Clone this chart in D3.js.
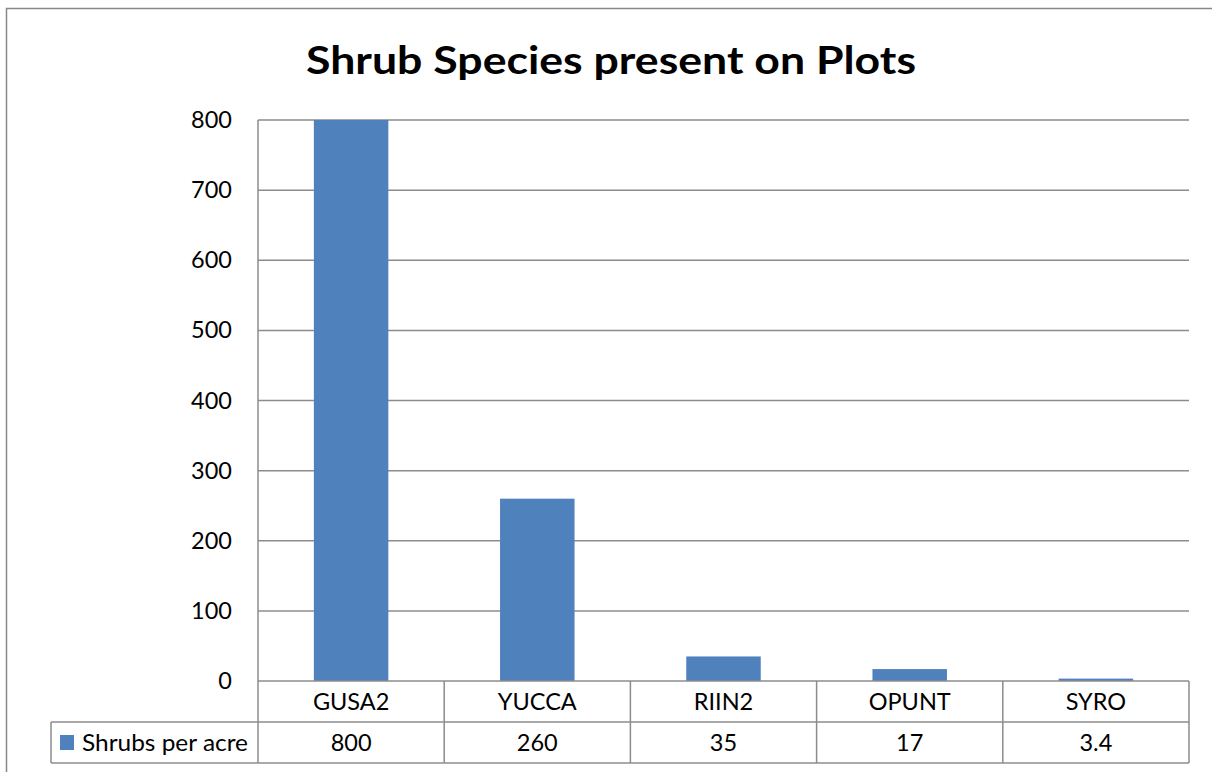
<!DOCTYPE html>
<html>
<head>
<meta charset="utf-8">
<script src="https://cdn.jsdelivr.net/npm/d3@7"></script>
<style>
  html, body { margin: 0; padding: 0; background: #fff; }
  svg { display: block; }
  text { font-family: Lato, "Open Sans", "Liberation Sans", sans-serif; fill: #000; }
</style>
</head>
<body>
<svg id="chart" width="1212" height="772"></svg>
<script>
const title = "Shrub Species present on Plots";
const categories = ["GUSA2", "YUCCA", "RIIN2", "OPUNT", "SYRO"];
const seriesName = "Shrubs per acre";
const values = [800, 260, 35, 17, 3.4];
const valueLabels = ["800", "260", "35", "17", "3.4"];
const yTicks = [0, 100, 200, 300, 400, 500, 600, 700, 800];

const svg = d3.select("#chart");
const W = 1212, H = 772;
const plot = { left: 258, right: 1189, top: 120, bottom: 681 };
const rowH = 41;
const tableLeft = 51;
const gridColor = "#8c8c8c";
const barColor = "#4f81bd";
const labelSize = 23.5;

// outer chart border
svg.append("rect").attr("x", 6.5).attr("y", 8.5).attr("width", W + 10).attr("height", H + 10)
  .attr("fill", "#fff").attr("stroke", "#888").attr("stroke-width", 1.5);

// title
svg.append("text").attr("x", 611).attr("y", 74).attr("text-anchor", "middle")
  .attr("font-size", 39).attr("font-weight", "bold")
  .attr("textLength", 610).attr("lengthAdjust", "spacingAndGlyphs")
  .text(title);

const x = d3.scaleBand().domain(categories).range([plot.left, plot.right]).paddingInner(0.6).paddingOuter(0.3);
const xCell = d3.scaleBand().domain(categories).range([plot.left, plot.right]).padding(0);
const y = d3.scaleLinear().domain([0, 800]).range([plot.bottom, plot.top]);

// gridlines
svg.append("g").selectAll("line").data(yTicks.filter(d => d > 0)).join("line")
  .attr("x1", plot.left).attr("x2", plot.right)
  .attr("y1", d => y(d)).attr("y2", d => y(d))
  .attr("stroke", gridColor).attr("stroke-width", 1.5);

// y axis labels
const yAxis = d3.axisLeft(y).tickValues(yTicks).tickSize(0).tickPadding(26).tickFormat(d3.format("d"));
const ya = svg.append("g").attr("transform", `translate(${plot.left},0)`).call(yAxis);
ya.select(".domain").remove();
ya.selectAll("text").attr("font-size", labelSize).attr("font-family", "Lato, 'Open Sans', sans-serif").attr("fill", "#000");

// bars
svg.append("g").selectAll("rect").data(categories).join("rect")
  .attr("x", d => x(d)).attr("width", x.bandwidth())
  .attr("y", (d, i) => y(values[i]))
  .attr("height", (d, i) => plot.bottom - y(values[i]))
  .attr("fill", barColor);

// left axis line
svg.append("line").attr("x1", plot.left).attr("x2", plot.left)
  .attr("y1", plot.top).attr("y2", plot.bottom + 2 * rowH)
  .attr("stroke", gridColor).attr("stroke-width", 1.5);

// data table
const t = svg.append("g");
const r1 = plot.bottom, r2 = plot.bottom + rowH, r3 = plot.bottom + 2 * rowH;
t.append("line").attr("x1", plot.left).attr("x2", plot.right).attr("y1", r1).attr("y2", r1)
  .attr("stroke", gridColor).attr("stroke-width", 1.5);
t.append("line").attr("x1", tableLeft).attr("x2", plot.right).attr("y1", r2).attr("y2", r2)
  .attr("stroke", gridColor).attr("stroke-width", 1.5);
t.append("line").attr("x1", tableLeft).attr("x2", plot.right).attr("y1", r3).attr("y2", r3)
  .attr("stroke", gridColor).attr("stroke-width", 1.5);
t.append("line").attr("x1", tableLeft).attr("x2", tableLeft).attr("y1", r2).attr("y2", r3)
  .attr("stroke", gridColor).attr("stroke-width", 1.5);
t.selectAll("line.v").data(categories).join("line").attr("class", "v")
  .attr("x1", d => xCell(d) + xCell.bandwidth()).attr("x2", d => xCell(d) + xCell.bandwidth())
  .attr("y1", r1).attr("y2", r3)
  .attr("stroke", gridColor).attr("stroke-width", 1.5);

t.selectAll("text.cat").data(categories).join("text").attr("class", "cat")
  .attr("x", d => xCell(d) + xCell.bandwidth() / 2).attr("y", r1 + rowH / 2)
  .attr("dy", "0.36em").attr("text-anchor", "middle").attr("font-size", labelSize)
  .text(d => d);
t.selectAll("text.val").data(categories).join("text").attr("class", "val")
  .attr("x", d => xCell(d) + xCell.bandwidth() / 2).attr("y", r2 + rowH / 2)
  .attr("dy", "0.36em").attr("text-anchor", "middle").attr("font-size", labelSize)
  .text((d, i) => valueLabels[i]);

// legend key
t.append("rect").attr("x", 60).attr("y", r2 + 13).attr("width", 14).attr("height", 15).attr("fill", barColor);
t.append("text").attr("x", 82).attr("y", r2 + rowH / 2).attr("dy", "0.36em")
  .attr("font-size", labelSize).attr("textLength", 166).attr("lengthAdjust", "spacingAndGlyphs")
  .text(seriesName);
</script>
</body>
</html>
